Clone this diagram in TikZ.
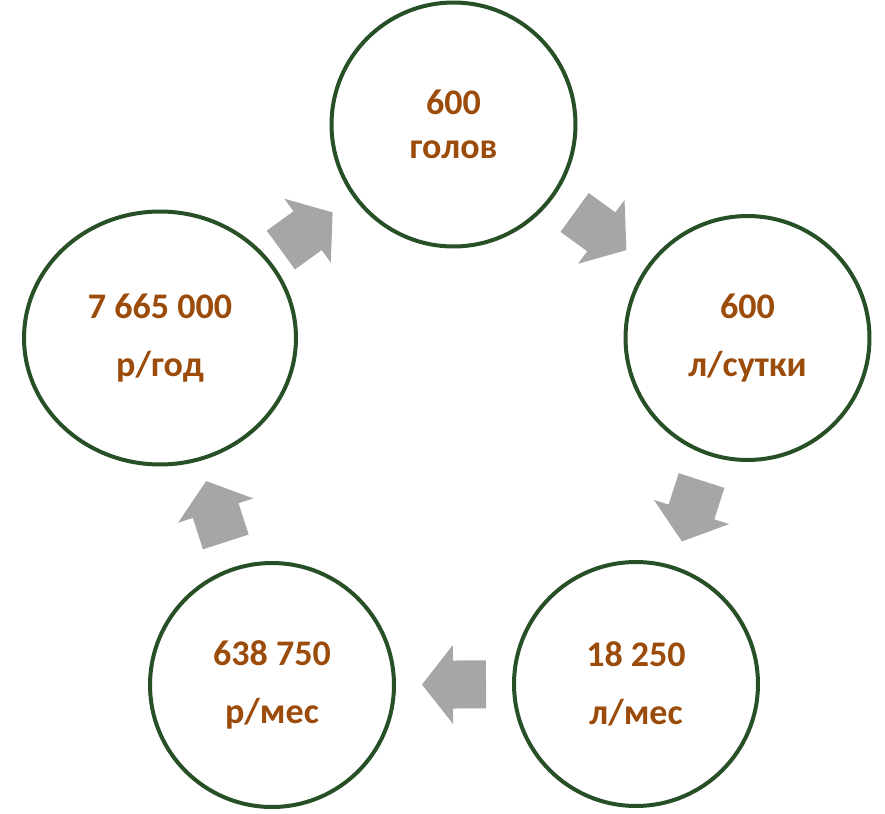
\documentclass[tikz,border=0pt]{standalone}
\usepackage{fontspec}
\setmainfont{Carlito}
\usetikzlibrary{calc,shapes.geometric}
\definecolor{ringgreen}{RGB}{40,80,38}
\definecolor{numbrown}{RGB}{155,75,10}
\definecolor{arrowgray}{RGB}{166,166,166}
\tikzset{
	ring/.style={circle, draw=ringgreen, line width=0.08cm, minimum size=4.88cm, inner sep=0pt,
		align=center, text=numbrown, font=\bfseries\fontsize{20.5}{33}\selectfont},
	blockarrow/.pic={\fill[arrowgray] (-32,-24) -- (1,-24) -- (1,-39.5) -- (32,0) -- (1,39.5) -- (1,24) -- (-32,24) -- cycle;}
}
\begin{document}
\begin{tikzpicture}[x=0.02cm, y=-0.02cm]
		\useasboundingbox (0,0) rectangle (885,814);

		\node [ring, font=\bfseries\fontsize{20.5}{25}\selectfont] (goly) at (453.5,124.5) {600\\голов};
		\node [ring] (litday)   at (747.5,338) {600\\л/сутки};
		\node [ring] (litmonth) at (636,684)   {18 250\\л/мес};
		\node [ring] (rubmonth) at (272,685)   {638 750\\р/мес};
		\node [ring, ellipse, minimum width=5.44cm, minimum height=5.06cm] (rubyear) at (160,338) {7 665 000\\р/год};

		\foreach \a/\b in {rubyear/goly, goly/litday, litday/litmonth, litmonth/rubmonth, rubmonth/rubyear} {
			\path let \p1=($(\b)-(\a)$), \n1={atan2(\y1,\x1)} in pic [rotate=\n1] at ($(\a)!0.5!(\b)$) {blockarrow};
		}
	\end{tikzpicture}
\end{document}
